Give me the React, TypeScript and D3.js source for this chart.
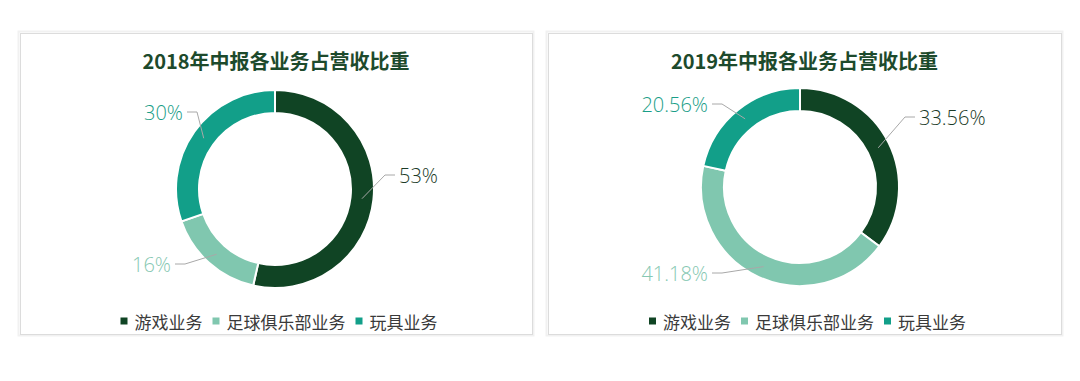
import React from 'react';
import * as d3 from 'd3';

// ---- data ----
const categories = ['游戏业务', '足球俱乐部业务', '玩具业务'];
const titles = ['2018年中报各业务占营收比重', '2019年中报各业务占营收比重'];
const values2018 = [53, 16, 30];
const values2019 = [33.56, 41.18, 20.56];
const labels2018 = ['53%', '16%', '30%'];
const labels2019 = ['33.56%', '41.18%', '20.56%'];

// ---- style ----
const sliceColors = ['#104424', '#80c7af', '#129f89'];
const labelColors = ['#1b3a27', '#86c8b2', '#1a9e88'];
const titleColor = '#1d4a2c';
const legendTextColor = '#3a3a3a';
const leaderColor = '#a8a8a8';

// ---- layout ----
const W = 1080;
const H = 381;
const panels = [
  { x: 20, y: 33, w: 512, h: 301, cx: 275, cy: 189, legendShift: 3 },
  { x: 548, y: 33, w: 513, h: 301, cx: 800, cy: 187, legendShift: 3 },
];
// elbow points of the leader lines, relative to the donut center
const elbows = [
  [
    { dx: 110, dy: -14, side: 1 },
    { dx: -90, dy: 75, side: -1 },
    { dx: -78, dy: -77, side: -1 },
  ],
  [
    { dx: 105, dy: -70, side: 1 },
    { dx: -78, dy: 86, side: -1 },
    { dx: -78, dy: -83, side: -1 },
  ],
];
const outerR = 99;
const innerR = 76;

const cjk = '"Noto Sans CJK SC", "Noto Sans", sans-serif';
const latin = '"Open Sans", "Noto Sans", sans-serif';

function Donut({ pi, values, labels }: { pi: number; values: number[]; labels: string[] }) {
  const p = panels[pi];
  const pie = d3.pie<number>().sort(null).value((d) => d);
  const arcs = pie(values);
  const arc = d3.arc<d3.PieArcDatum<number>>().innerRadius(innerR).outerRadius(outerR);
  const midR = (innerR + outerR) / 2;
  const midArc = d3.arc<d3.PieArcDatum<number>>().innerRadius(midR).outerRadius(midR);
  const fontSize = 17;
  const sq = 7;
  const gapIn = 7;
  const gapOut = 10;
  const widths = categories.map((c) => c.length * fontSize);
  const total = widths.reduce((a, b) => a + b, 0) + categories.length * (sq + gapIn) + (categories.length - 1) * gapOut;
  let lx = p.x + p.w / 2 - total / 2 + p.legendShift;
  const legendY = 321;
  const legendItems = categories.map((c, i) => {
    const item = { x: lx, c, i };
    lx += sq + gapIn + widths[i] + gapOut;
    return item;
  });

  return (
    <g>
      <rect x={p.x - 1.5} y={p.y - 1.5} width={p.w + 3} height={p.h + 3} fill="none" stroke="#f1f1f1" strokeWidth={2} />
      <rect x={p.x + 0.5} y={p.y + 0.5} width={p.w} height={p.h} fill="#fff" stroke="#dcdcdc" strokeWidth={1} />
      <text
        x={p.x + p.w / 2}
        y={60}
        textAnchor="middle"
        dominantBaseline="central"
        fontFamily={cjk}
        fontWeight={700}
        fontSize={20}
        fill={titleColor}
      >
        {titles[pi]}
      </text>
      <g transform={`translate(${p.cx},${p.cy})`}>
        {arcs.map((a, i) => (
          <path key={i} d={arc(a) || ''} fill={sliceColors[i]} stroke="#fff" strokeWidth={2} />
        ))}
        {arcs.map((a, i) => {
          const [sx, sy] = midArc.centroid(a);
          const e = elbows[pi][i];
          const endX = e.dx + e.side * 10;
          const tx = endX + e.side * 4;
          return (
            <g key={'l' + i}>
              <polyline
                points={`${sx},${sy} ${e.dx},${e.dy} ${endX},${e.dy}`}
                fill="none"
                stroke={leaderColor}
                strokeWidth={1}
              />
              <text
                x={tx}
                y={e.dy}
                textAnchor={e.side > 0 ? 'start' : 'end'}
                dominantBaseline="central"
                fontFamily={latin}
                fontWeight={300}
                fontSize={20}
                fill={labelColors[i]}
              >
                {labels[i]}
              </text>
            </g>
          );
        })}
      </g>
      {legendItems.map((it) => (
        <g key={'lg' + it.i}>
          <rect x={it.x} y={legendY - sq / 2} width={sq} height={sq} fill={sliceColors[it.i]} />
          <text
            x={it.x + sq + gapIn}
            y={legendY}
            dominantBaseline="central"
            fontFamily={cjk}
            fontSize={fontSize}
            fill={legendTextColor}
          >
            {it.c}
          </text>
        </g>
      ))}
    </g>
  );
}

export default function App() {
  return (
    <svg
      width={W}
      height={H}
      viewBox={`0 0 ${W} ${H}`}
      style={{ position: 'absolute', left: 0, top: 0, display: 'block', background: '#fff' }}
    >
      <rect x={0} y={0} width={W} height={H} fill="#fff" />
      <Donut pi={0} values={values2018} labels={labels2018} />
      <Donut pi={1} values={values2019} labels={labels2019} />
    </svg>
  );
}
